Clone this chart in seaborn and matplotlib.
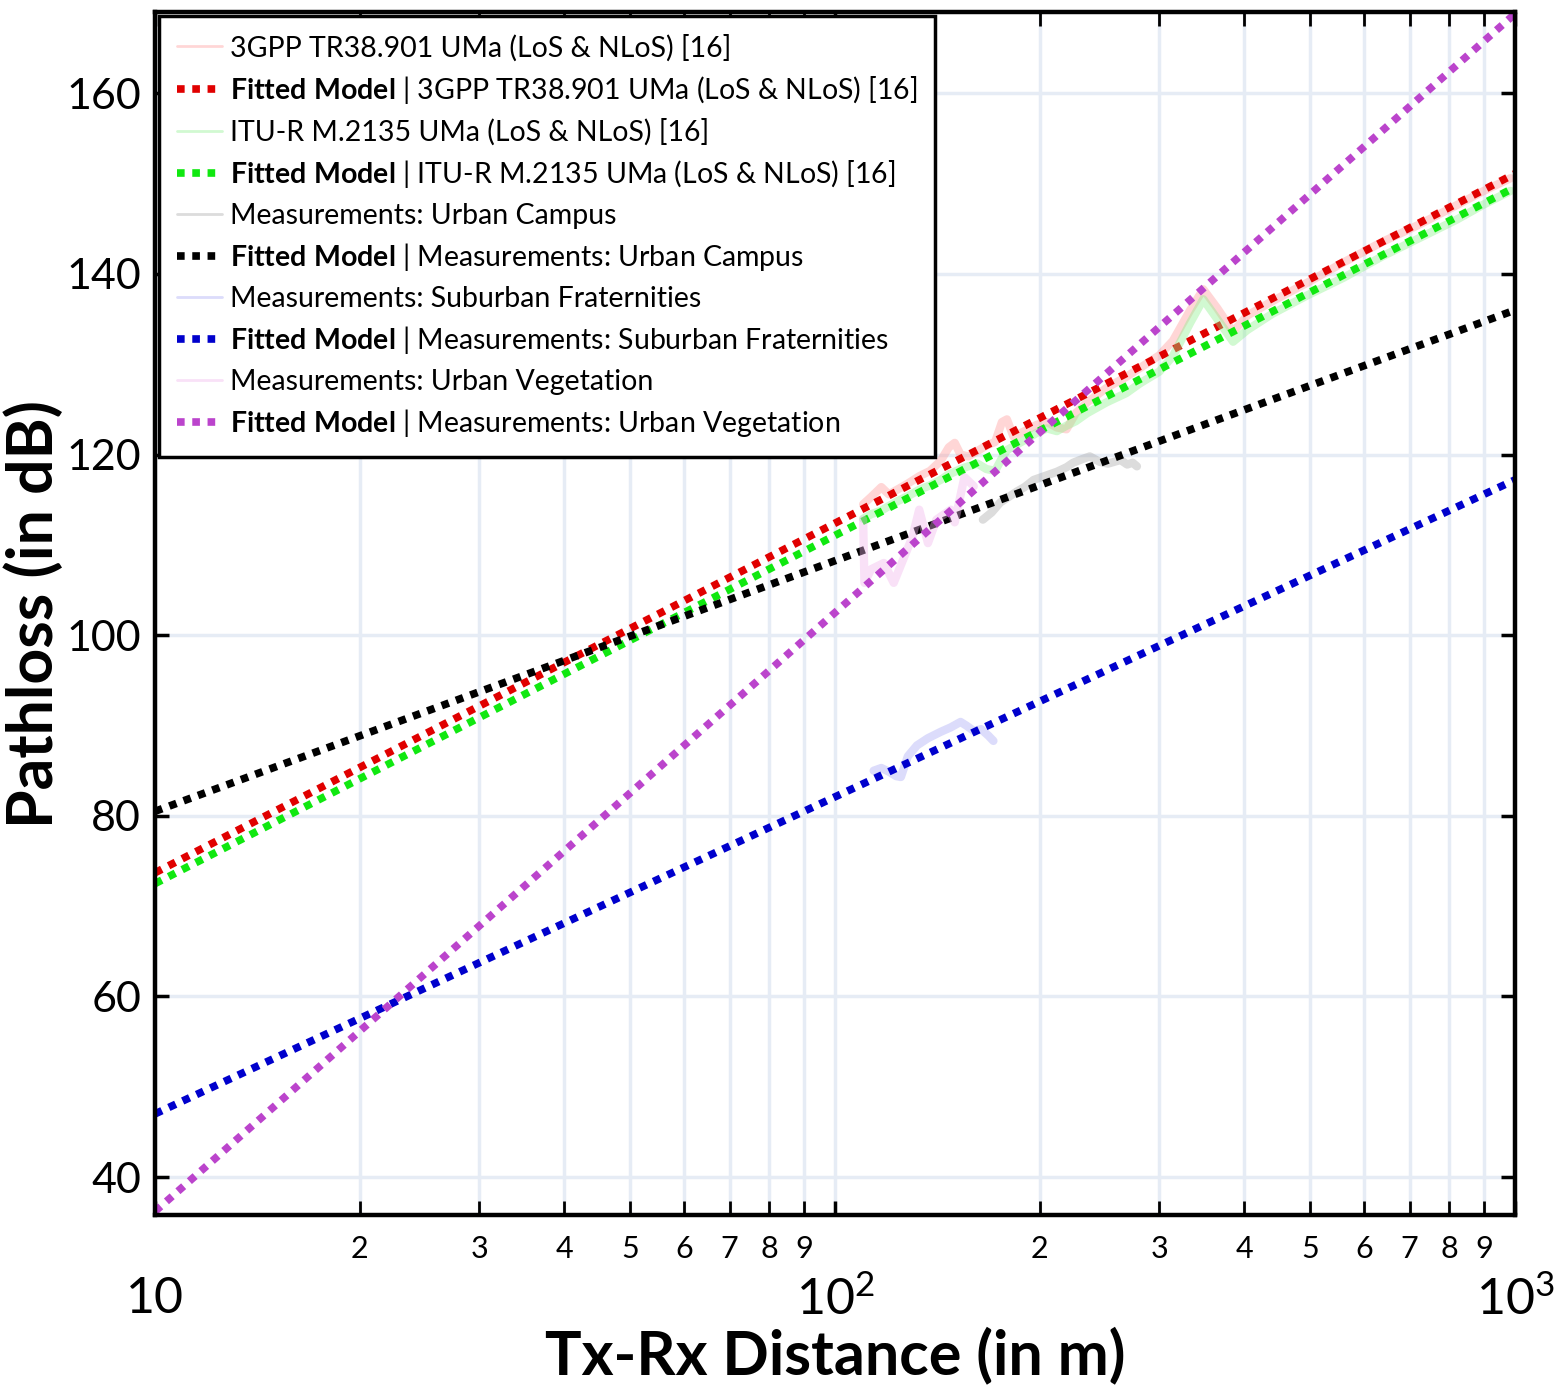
import numpy as np
import pandas as pd
import matplotlib
matplotlib.use("Agg")
import matplotlib.pyplot as plt
from matplotlib.ticker import FixedLocator, FixedFormatter, NullLocator
import seaborn as sns

# ---- data ----
# measured / reference-model curves (distance in m, pathloss in dB)
gpp_d = [110, 113, 117, 120, 124, 128, 133, 138, 143, 147, 150, 153, 157, 162, 167, 172,
         176, 179, 183, 190, 198, 205, 212, 219, 226, 235, 251, 268, 281, 300, 314, 333,
         348, 365, 385, 404, 440, 494, 560, 640, 720, 820, 900, 985]
gpp_pl = [114.5, 115.3, 116.4, 115.6, 116.2, 116.8, 117.6, 118.2, 119.3, 120.8, 121.3, 120.0,
          119.8, 120.4, 121.0, 121.4, 123.6, 123.9, 122.0, 122.6, 123.3, 123.6, 123.0, 122.8,
          124.6, 125.8, 127.4, 128.6, 129.6, 131.0, 132.6, 136.0, 138.3, 136.2, 133.6, 135.4,
          137.0, 139.0, 141.3, 143.6, 145.4, 147.6, 149.2, 150.6]

itu_d = gpp_d
itu_pl = [112.9, 113.4, 113.8, 114.3, 114.9, 115.4, 116.1, 116.6, 117.2, 117.8, 118.1, 118.4,
          118.7, 119.0, 118.4, 118.2, 119.6, 120.5, 120.9, 121.6, 122.4, 122.9, 122.6, 123.2,
          123.7, 124.6, 125.8, 126.8, 127.9, 129.2, 130.9, 134.6, 137.2, 135.0, 132.5, 133.8,
          135.6, 137.6, 139.6, 142.0, 143.9, 146.0, 147.7, 149.2]

campus_d = [165, 170, 175, 180, 185, 190, 196, 203, 212, 219, 224, 231, 237, 245, 252, 263,
            269, 274, 278]
campus_pl = [112.8, 113.6, 114.7, 115.3, 115.9, 116.4, 117.2, 117.6, 118.1, 118.6, 119.1,
             119.5, 119.8, 119.2, 119.0, 119.4, 118.9, 119.1, 118.7]

frat_d = [114, 117, 120, 123, 125, 128, 132, 137, 143, 148, 153, 156, 160, 164, 168, 171]
frat_pl = [85.0, 85.3, 84.9, 84.4, 84.3, 86.6, 87.8, 88.6, 89.3, 89.8, 90.4, 90.0, 89.4,
           89.6, 88.9, 88.3]

veg_d = [110, 110.5, 113, 118, 122, 126, 130, 133, 137, 141, 148, 150, 155, 160]
veg_pl = [112.8, 105.8, 107.3, 108.0, 105.8, 108.4, 110.9, 113.9, 110.2, 112.8, 113.9,
          112.5, 117.5, 116.5]

# fitted models: value at the two ends of the distance range
fit_d = [10, 1000]
fit_gpp = [73.7, 151.1]
fit_itu = [72.5, 149.6]
fit_campus = [80.5, 136.0]
fit_frat = [47.0, 117.2]
fit_veg = [36.2, 168.8]

names = ["3GPP TR38.901 UMa (LoS & NLoS) [16]",
         "ITU-R M.2135 UMa (LoS & NLoS) [16]",
         "Measurements: Urban Campus",
         "Measurements: Suburban Fraternities",
         "Measurements: Urban Vegetation"]

x_major = [10, 100, 1000]
x_major_labels = ["10", "$10^2$", "$10^3$"]
minor_digits = [2, 3, 4, 5, 6, 7, 8, 9]
y_ticks = [40, 60, 80, 100, 120, 140, 160]

# ---- style ----
sns.set_theme(style="ticks")
plt.rcParams["font.family"] = ["Lato", "DejaVu Sans"]
plt.rcParams["mathtext.fontset"] = "custom"
plt.rcParams["mathtext.rm"] = "Lato"
plt.rcParams["mathtext.bf"] = "Lato:bold"
plt.rcParams["mathtext.it"] = "Lato:italic"
for key in ["text.color", "axes.labelcolor", "xtick.color", "ytick.color",
            "xtick.labelcolor", "ytick.labelcolor"]:
    plt.rcParams[key] = "black"

fig = plt.figure(figsize=(15.67, 13.85), dpi=100)
ax = fig.add_axes([0.0989, 0.1227, 0.8679, 0.8686])
ax.set_xscale("log")

meas = [(gpp_d, gpp_pl, "#ff9a9a"), (itu_d, itu_pl, "#8cf08c"),
        (campus_d, campus_pl, "#a8a8a8"), (frat_d, frat_pl, "#a8a8f5"),
        (veg_d, veg_pl, "#f0b4ec")]
fits = [(fit_gpp, "#e00000"), (fit_itu, "#10e810"), (fit_campus, "#000000"),
        (fit_frat, "#0000cc"), (fit_veg, "#bb44cc")]

for (d, pl, mc), (fv, fc), name in zip(meas, fits, names):
    sns.lineplot(x=d, y=pl, ax=ax, color=mc, lw=6, alpha=0.4, sort=False,
                 estimator=None, label=name)
    sns.lineplot(x=fit_d, y=fv, ax=ax, color=fc, lw=5.5, linestyle=(0, (1, 1)),
                 sort=False, estimator=None,
                 label=r"$\mathbf{Fitted\ Model}$ | " + name)

ax.set_xlim(10, 1000)
ax.set_ylim(35.8, 169)

minor_pos = [m * base for base in [10, 100] for m in minor_digits]
ax.xaxis.set_major_locator(FixedLocator(x_major))
ax.xaxis.set_major_formatter(FixedFormatter(x_major_labels))
ax.xaxis.set_minor_locator(FixedLocator(minor_pos))
ax.xaxis.set_minor_formatter(FixedFormatter([str(m) for m in minor_digits] * 2))
ax.yaxis.set_major_locator(FixedLocator(y_ticks))
ax.yaxis.set_minor_locator(NullLocator())

ax.tick_params(which="both", direction="in", top=True, right=True, color="black",
               labelcolor="black")
ax.tick_params(axis="y", which="major", labelsize=31, length=10, width=2.5, pad=10)
ax.tick_params(axis="x", which="major", labelsize=36, length=10, width=2.5, pad=44)
ax.tick_params(axis="x", which="minor", labelsize=22, length=10, width=2, pad=14)

ax.set_axisbelow(True)
ax.grid(True, which="major", color="#e6ecf5", lw=2.5)
ax.grid(True, which="minor", axis="x", color="#e6ecf5", lw=2.5)

for sp in ax.spines.values():
    sp.set_linewidth(3.2)
    sp.set_color("black")

ax.set_xlabel("Tx-Rx Distance (in m)", fontsize=44, fontweight="bold", labelpad=2,
              color="black")
ax.set_ylabel("Pathloss (in dB)", fontsize=45, fontweight="bold", labelpad=2,
              color="black")

leg = ax.legend(loc="upper left", fontsize=20.5, frameon=True, fancybox=False,
                framealpha=1, edgecolor="black", borderaxespad=0.15,
                handlelength=1.6, handletextpad=0.25, labelspacing=0.44,
                borderpad=0.62, labelcolor="black")
leg.get_frame().set_linewidth(2.5)
for h in leg.get_lines():
    if h.get_linestyle() == "-":
        h.set_linewidth(2)

fig.savefig("out.png", dpi=100)
